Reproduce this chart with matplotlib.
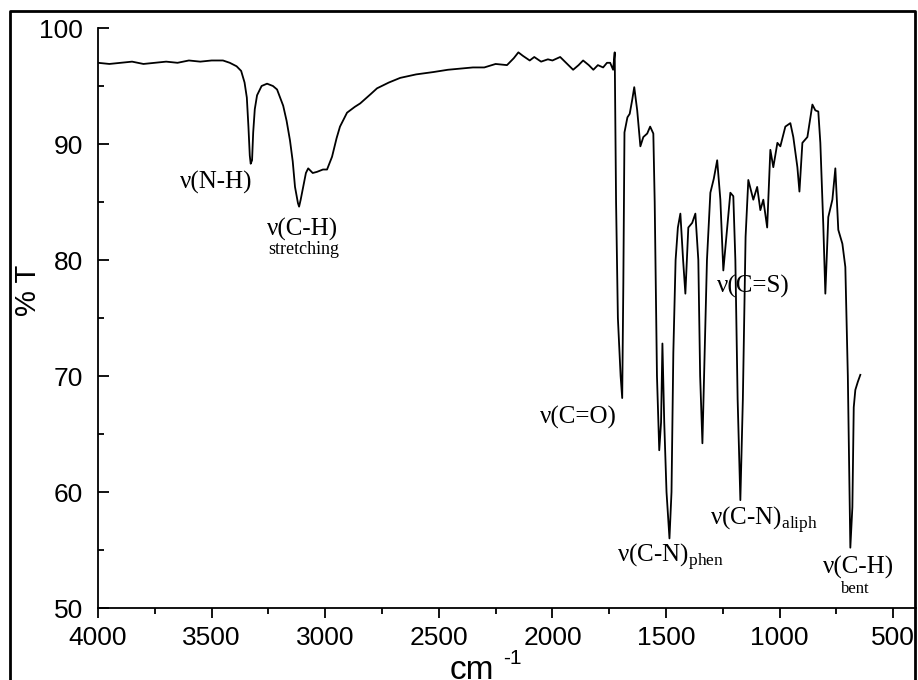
import matplotlib
matplotlib.use("Agg")
import matplotlib.pyplot as plt
from matplotlib.lines import Line2D
from matplotlib.ticker import MultipleLocator

plt.rcParams["font.family"] = ["Liberation Sans", "DejaVu Sans"]
plt.rcParams["mathtext.fontset"] = "custom"
plt.rcParams["mathtext.rm"] = "Liberation Serif"

# IR spectrum (wavenumber cm-1, %T)
wavenumber = [
    4000, 3950, 3900, 3850, 3800, 3750, 3700, 3650, 3600, 3550, 3500, 3450,
    3420, 3390, 3370, 3355, 3345, 3338, 3332, 3328, 3322, 3317, 3310, 3300,
    3280, 3256, 3230, 3212, 3185, 3170, 3155, 3143, 3133, 3120, 3115, 3108,
    3097, 3085, 3075, 3055, 3036, 3010, 2992, 2970, 2950, 2935, 2904, 2870,
    2846, 2800, 2772, 2720, 2670, 2600, 2525, 2460, 2406, 2350, 2300, 2250,
    2200, 2170, 2150, 2130, 2100, 2080, 2050, 2020, 2000, 1966, 1940, 1909,
    1885, 1865, 1840, 1820, 1800, 1777, 1760, 1746, 1733, 1726, 1720, 1712,
    1700, 1693, 1688, 1683, 1670, 1660, 1649, 1640, 1627, 1613, 1600, 1583,
    1570, 1556, 1550, 1540, 1530, 1522, 1516, 1508, 1498, 1485, 1476, 1468,
    1458, 1448, 1437, 1425, 1415, 1402, 1385, 1371, 1358, 1350, 1340, 1330,
    1320, 1305, 1290, 1275, 1261, 1248, 1231, 1217, 1204, 1195, 1185, 1173,
    1162, 1150, 1138, 1116, 1099, 1085, 1072, 1055, 1041, 1028, 1010, 997,
    975, 953, 940, 922, 913, 900, 878, 856, 843, 830, 821, 808,
    799, 786, 768, 755, 742, 724, 711, 700, 689, 680, 674, 667,
    656, 645,
]
transmittance = [
    97.0, 96.9, 97.0, 97.1, 96.9, 97.0, 97.1, 97.0, 97.2, 97.1, 97.2, 97.2,
    97.0, 96.7, 96.3, 95.3, 94.0, 91.5, 89.0, 88.3, 88.6, 91.0, 93.0, 94.2,
    95.0, 95.2, 95.0, 94.7, 93.3, 92.0, 90.3, 88.5, 86.3, 84.9, 84.6, 85.2,
    86.3, 87.5, 87.9, 87.5, 87.6, 87.8, 87.8, 88.9, 90.5, 91.5, 92.7, 93.2,
    93.5, 94.3, 94.8, 95.3, 95.7, 96.0, 96.2, 96.4, 96.5, 96.6, 96.6, 96.9,
    96.8, 97.4, 97.9, 97.6, 97.2, 97.5, 97.1, 97.3, 97.2, 97.5, 97.0, 96.4,
    96.8, 97.2, 96.8, 96.4, 96.8, 96.6, 97.0, 97.0, 96.4, 97.9, 85.0, 75.0,
    70.0, 68.1, 78.0, 91.0, 92.3, 92.6, 93.8, 94.9, 92.9, 89.8, 90.6, 90.9,
    91.5, 90.9, 85.0, 70.0, 63.6, 66.0, 72.8, 66.0, 60.0, 56.0, 60.0, 72.0,
    80.0, 82.8, 84.0, 80.0, 77.1, 82.8, 83.2, 84.0, 80.0, 70.0, 64.2, 72.0,
    80.0, 85.8, 87.0, 88.6, 85.2, 79.1, 82.8, 85.8, 85.5, 80.0, 68.0, 59.3,
    68.0, 82.0, 86.9, 85.2, 86.3, 84.3, 85.2, 82.8, 89.5, 88.0, 90.1, 89.8,
    91.5, 91.8, 90.6, 88.0, 85.9, 90.1, 90.6, 93.4, 92.9, 92.8, 90.1, 83.0,
    77.1, 83.7, 85.2, 87.9, 82.6, 81.4, 79.4, 70.0, 55.2, 58.7, 67.3, 68.8,
    69.5, 70.1,
]

# band labels: (text, wavenumber, %T, size)
band_labels = [
    ("ν(N-H)", 3640, 86.7, 18),
    ("ν(C-H)", 3256, 82.6, 18),
    ("stretching", 3250, 80.9, 13),
    ("ν(C=O)", 2055, 66.4, 18),
    ("ν(C-N)$_{\\mathrm{phen}}$", 1716, 54.4, 18),
    ("ν(C-N)$_{\\mathrm{aliph}}$", 1307, 57.6, 18),
    ("ν(C=S)", 1276, 77.7, 18),
    ("ν(C-H)", 810, 53.5, 18),
    ("bent", 728, 51.6, 12),
]

fig = plt.figure(figsize=(9.18, 6.8), dpi=100)
ax = fig.add_axes([98 / 918, 72 / 680, 818 / 918, 580 / 680])

ax.plot(wavenumber, transmittance, color="black", lw=1.3)

ax.set_xlim(4000, 400)
ax.set_ylim(50, 100)
ax.xaxis.set_major_locator(MultipleLocator(500))
ax.xaxis.set_minor_locator(MultipleLocator(250))
ax.yaxis.set_major_locator(MultipleLocator(10))
ax.yaxis.set_minor_locator(MultipleLocator(5))

ax.spines["top"].set_visible(False)
ax.spines["right"].set_visible(False)
ax.spines["left"].set_linewidth(1.3)
ax.spines["bottom"].set_linewidth(1.3)

ax.tick_params(axis="x", which="major", direction="out", length=7, width=1.3,
               pad=6, labelsize=19)
ax.tick_params(axis="x", which="minor", direction="out", length=4, width=1.3)
ax.tick_params(axis="y", which="major", direction="in", length=8, width=1.3,
               pad=11, labelsize=19)
ax.tick_params(axis="y", which="minor", direction="in", length=4, width=1.3)

for txt, xv, yv, size in band_labels:
    ax.text(xv, yv, txt, family=["Liberation Serif", "DejaVu Serif"],
            fontsize=size, ha="left", va="center")

# axis titles
fig.text(28 / 918, 1 - 290 / 680, "% T", rotation=90, ha="center",
         va="center", fontsize=21)
fig.text(450 / 918, 1 / 680, "cm", ha="left", va="baseline", fontsize=24)
fig.text(512 / 918, 1 - 658 / 680, "-1", ha="center", va="center",
         fontsize=15)

# outer frame (bottom edge falls outside the picture)
x0, x1 = 10 / 918, 915 / 918
y1 = 1 - 11 / 680
fig.add_artist(Line2D([x0, x0, x1, x1], [-0.1, y1, y1, -0.1],
                      transform=fig.transFigure, color="black", lw=2))

fig.savefig("out.png", dpi=100)
